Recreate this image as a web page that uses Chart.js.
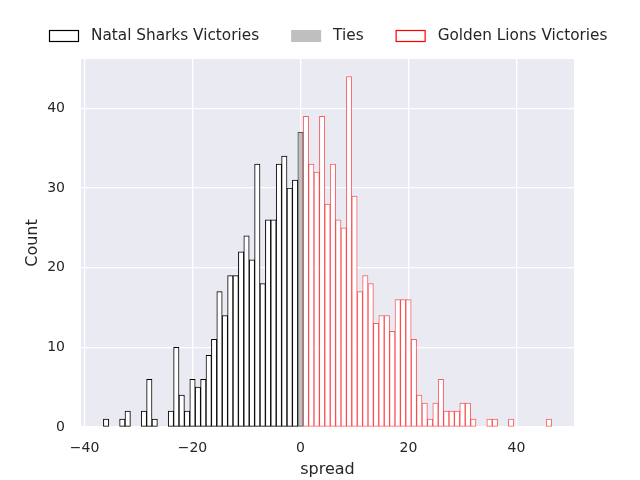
<!DOCTYPE html>
<html>
<head>
<meta charset="utf-8">
<script src="https://cdn.jsdelivr.net/npm/chart.js@4.4.1/dist/chart.umd.min.js"></script>
<style>
  html, body { margin: 0; padding: 0; background: #ffffff; }
  #wrap { width: 640px; height: 480px; }
</style>
</head>
<body>
<div id="wrap"><canvas id="spreadChart"></canvas></div>
<script>
// spread bins (points margin) and counts
const sharksSpread = [-36, -35, -34, -33, -32, -31, -30, -29, -28, -27, -26, -25, -24, -23, -22, -21, -20, -19,
  -18, -17, -16, -15, -14, -13, -12, -11, -10, -9, -8, -7, -6, -5, -4, -3, -2, -1];
const sharksCounts = [1, 0, 0, 1, 2, 0, 0, 2, 6, 1, 0, 0, 2, 10, 4, 2, 6, 5,
  6, 9, 11, 17, 14, 19, 19, 22, 24, 21, 33, 18, 26, 26, 33, 34, 30, 31];

const tiesSpread = [0];
const tiesCounts = [37];

const lionsSpread = [1, 2, 3, 4, 5, 6, 7, 8, 9, 10, 11, 12, 13, 14, 15, 16, 17, 18, 19, 20, 21, 22, 23,
  24, 25, 26, 27, 28, 29, 30, 31, 32, 33, 34, 35, 36, 37, 38, 39, 40, 41, 42, 43, 44, 45, 46];
const lionsCounts = [39, 33, 32, 39, 28, 33, 26, 25, 44, 29, 17, 19, 18, 13, 14, 14, 12, 16, 16, 16, 11, 4, 3,
  1, 3, 6, 2, 2, 2, 3, 3, 1, 0, 0, 1, 1, 0, 0, 1, 0, 0, 0, 0, 0, 0, 1];

const xTicks = [-40, -20, 0, 20, 40];
const yTicks = [0, 10, 20, 30, 40];

const TEXT = '#262626';
const FONT = 'DejaVu Sans';

const toPoints = (xs, ys) => xs.map((x, i) => ({ x, y: ys[i] })).filter(p => p.y > 0);

const legendItems = [
  { text: 'Natal Sharks Victories', fill: '#ffffff', stroke: '#000000' },
  { text: 'Ties', fill: '#bfbfbf', stroke: null },
  { text: 'Golden Lions Victories', fill: '#ffffff', stroke: '#ff0000' }
];

// seaborn-ish grey panel behind the plot
const panelBg = {
  id: 'panelBg',
  beforeDraw(chart) {
    const { ctx, chartArea: a } = chart;
    ctx.save();
    ctx.fillStyle = '#eaeaf2';
    ctx.fillRect(a.left, a.top, a.right - a.left, a.bottom - a.top);
    ctx.restore();
  }
};

// one-row legend across the top
const topLegend = {
  id: 'topLegend',
  afterDraw(chart) {
    const ctx = chart.ctx;
    ctx.save();
    ctx.font = '15.3px "' + FONT + '"';
    ctx.textBaseline = 'middle';
    let x = 49;
    const y = 36;
    legendItems.forEach(item => {
      ctx.fillStyle = item.fill;
      ctx.fillRect(x, y - 6, 30, 12);
      if (item.stroke) {
        ctx.strokeStyle = item.stroke;
        ctx.lineWidth = 1.2;
        ctx.strokeRect(x + 0.5, y - 5.5, 29, 11);
      }
      ctx.fillStyle = TEXT;
      ctx.fillText(item.text, x + 42, y);
      x += 42 + ctx.measureText(item.text).width + 32;
    });
    ctx.restore();
  }
};

const barBase = {
  grouped: false, barPercentage: 1, categoryPercentage: 1,
  borderWidth: 1, borderSkipped: false
};

new Chart(document.getElementById('spreadChart'), {
  type: 'bar',
  data: {
    datasets: [
      { ...barBase, label: 'Natal Sharks Victories', data: toPoints(sharksSpread, sharksCounts),
        backgroundColor: '#ffffff', borderColor: '#000000' },
      { ...barBase, label: 'Ties', data: toPoints(tiesSpread, tiesCounts),
        backgroundColor: '#bfbfbf', borderColor: '#555555' },
      { ...barBase, label: 'Golden Lions Victories', data: toPoints(lionsSpread, lionsCounts),
        backgroundColor: '#ffffff', borderColor: 'rgba(255,0,0,0.6)' }
    ]
  },
  options: {
    responsive: true,
    maintainAspectRatio: false,
    animation: false,
    layout: { padding: { top: 59, left: 19, right: 66, bottom: 0 } },
    plugins: { legend: { display: false }, tooltip: { enabled: false } },
    scales: {
      x: {
        type: 'linear', min: -40.65, max: 50.65, offset: false,
        afterBuildTicks: s => { s.ticks = xTicks.map(v => ({ value: v })); },
        afterFit: s => { s.height = 53; },
        ticks: {
          color: TEXT, padding: 13, font: { family: FONT, size: 14 },
          callback: v => String(v).replace('-', '\u2212')
        },
        grid: { color: '#ffffff', lineWidth: 1.3, drawTicks: false, offset: false },
        border: { display: false },
        title: { display: true, text: 'spread', color: TEXT, padding: { top: 4, bottom: 1 }, font: { family: FONT, size: 16 } }
      },
      y: {
        min: 0, max: 46.2,
        afterBuildTicks: s => { s.ticks = yTicks.map(v => ({ value: v })); },
        afterFit: s => { s.width = 62; },
        ticks: { color: TEXT, padding: 16, font: { family: FONT, size: 14 } },
        grid: { color: '#ffffff', lineWidth: 1.3, drawTicks: false },
        border: { display: false },
        title: { display: true, text: 'Count', color: TEXT, font: { family: FONT, size: 16 } }
      }
    }
  },
  plugins: [panelBg, topLegend]
});
</script>
</body>
</html>
